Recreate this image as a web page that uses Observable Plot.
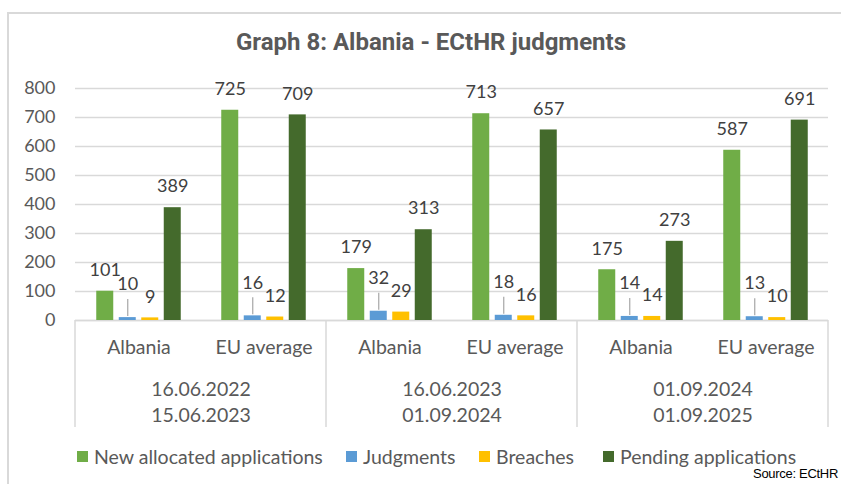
<!DOCTYPE html>
<html>
<head>
<meta charset="utf-8">
<script src="https://cdn.jsdelivr.net/npm/d3@7"></script>
<script src="https://cdn.jsdelivr.net/npm/@observablehq/plot@0.6"></script>
<style>
  html, body { margin: 0; padding: 0; background: #fff; }
  #page { position: relative; width: 841px; height: 484px; overflow: hidden; font-family: Lato, sans-serif; }
  #frame { position: absolute; left: 7px; top: 12px; width: 900px; height: 600px; border-left: 2px solid #d9d9d9; border-top: 2px solid #d9d9d9; }
  #title { position: absolute; left: 0; width: 862px; top: 28px; text-align: center; font-family: Roboto, sans-serif; font-weight: bold; font-size: 24px; color: #595959; }
  #chart { position: absolute; left: 0; top: 60px; }
  .leg { position: absolute; top: 445px; font-size: 19.5px; color: #595959; display: flex; align-items: center; white-space: nowrap; }
  .leg span.sw { display: inline-block; width: 11px; height: 11px; margin-right: 6px; }
  #source { position: absolute; right: 3px; top: 466px; font-family: "Liberation Sans", Arial, sans-serif; font-size: 13px; letter-spacing: -0.3px; color: #000; }
</style>
</head>
<body>
<div id="page">
  <div id="frame"></div>
  <div id="title">Graph 8: Albania - ECtHR judgments</div>
  <div id="chart"></div>
  <div id="legend"></div>
  <div id="source">Source: ECtHR</div>
</div>
<script>
// ---- data ----
const periodStart = ["16.06.2022", "16.06.2023", "01.09.2024"];
const periodEnd = ["15.06.2023", "01.09.2024", "01.09.2025"];
const countries = ["Albania", "EU average"];
const seriesNames = ["New allocated applications", "Judgments", "Breaches", "Pending applications"];
const seriesColors = ["#70AD47", "#5B9BD5", "#FFC000", "#446A2C"];
// values in order: period1 Albania, period1 EU average, period2 Albania, period2 EU average, period3 Albania, period3 EU average
const newAllocated = [101, 725, 179, 713, 175, 587];
const judgments = [10, 16, 32, 18, 14, 13];
const breaches = [9, 12, 29, 16, 14, 10];
const pending = [389, 709, 313, 657, 273, 691];
const yTicks = [0, 100, 200, 300, 400, 500, 600, 700, 800];
const legendX = [77, 346, 479, 603];

// ---- build table ----
const periods = periodStart.map((s, i) => s + "\n" + periodEnd[i]);
const seriesValues = [newAllocated, judgments, breaches, pending];
const rows = [];
periods.forEach((p, pi) => {
  countries.forEach((c, ci) => {
    seriesNames.forEach((s, si) => {
      rows.push({period: p, country: c, series: s, si, value: seriesValues[si][pi * 2 + ci]});
    });
  });
});

// ---- layout ----
const W = 841, H = 370, ML = 75, MR = 13, MT = 28, MB = 110;
const band = (W - ML - MR) / (periods.length * countries.length);
const barW = 17.5, barStep = 22.5;
const offsets = seriesNames.map((s, i) => (i - (seriesNames.length - 1) / 2) * barStep);
const inset = (band - barW) / 2;
const labelColor = "#404040";
const catFont = 19.5;

const marks = [
  Plot.gridY(yTicks, {stroke: "#d9d9d9", strokeOpacity: 1, strokeWidth: 1.5}),
  Plot.ruleY([0], {stroke: "#d9d9d9", strokeWidth: 1.5}),
  Plot.axisY(yTicks, {tickSize: 0, tickPadding: 20, fontSize: 18, color: "#595959", fill: "#595959", label: null, fontFamily: "Lato"})
];
seriesNames.forEach((s, si) => {
  const d = rows.filter(r => r.si === si);
  marks.push(Plot.barY(d, {fx: "period", x: "country", y: "value", fill: seriesColors[si], dx: offsets[si], insetLeft: inset, insetRight: inset}));
  if (s === "Judgments") {
    marks.push(Plot.ruleX(d, {fx: "period", x: "country", y1: "value", y2: "value", dx: offsets[si], insetTop: -18, insetBottom: 1, stroke: "#a6a6a6", strokeWidth: 1.2}));
    marks.push(Plot.text(d, {fx: "period", x: "country", y: "value", text: "value", dx: offsets[si], dy: -33, lineAnchor: "middle", fontSize: 18, fill: labelColor, fontFamily: "Lato"}));
  } else {
    marks.push(Plot.text(d, {fx: "period", x: "country", y: "value", text: "value", dx: offsets[si], dy: -21, lineAnchor: "middle", fontSize: 18, fill: labelColor, fontFamily: "Lato"}));
  }
});
// category labels
const catRows = periods.flatMap(p => countries.map(c => ({period: p, country: c})));
marks.push(Plot.text(catRows, {fx: "period", x: "country", text: "country", frameAnchor: "bottom", dy: 27, lineAnchor: "middle", fontSize: catFont, fill: "#595959", fontFamily: "Lato"}));
marks.push(Plot.text(periods, {fx: d => d, text: d => d, frameAnchor: "bottom", dy: 80, lineAnchor: "middle", lineHeight: 26 / catFont, fontSize: catFont, fill: "#595959", fontFamily: "Lato"}));

const plot = Plot.plot({
  width: W, height: H,
  marginLeft: ML, marginRight: MR, marginTop: MT, marginBottom: MB,
  style: {fontFamily: "Lato", background: "transparent", overflow: "visible"},
  fx: {domain: periods, padding: 0, axis: null, label: null},
  x: {domain: countries, padding: 0, axis: null, label: null},
  y: {domain: [0, 800], axis: null, label: null},
  marks
});
document.getElementById("chart").appendChild(plot);

// group separators below the axis, from the library's own scales
const fxs = plot.scale("fx");
const ys = plot.scale("y");
const y0 = ys.apply(0);
const svg = d3.select(plot);
const sepX = periods.map(p => fxs.apply(p)).concat([fxs.apply(periods[periods.length - 1]) + fxs.bandwidth]);
svg.append("g").selectAll("line").data(sepX).join("line")
  .attr("x1", d => d).attr("x2", d => d)
  .attr("y1", y0).attr("y2", y0 + 107)
  .attr("stroke", "#d9d9d9").attr("stroke-width", 1.5);

// legend
const leg = document.getElementById("legend");
seriesNames.forEach((s, i) => {
  const div = document.createElement("div");
  div.className = "leg";
  div.style.left = legendX[i] + "px";
  div.innerHTML = `<span class="sw" style="background:${seriesColors[i]}"></span><span>${s}</span>`;
  leg.appendChild(div);
});
</script>
</body>
</html>
